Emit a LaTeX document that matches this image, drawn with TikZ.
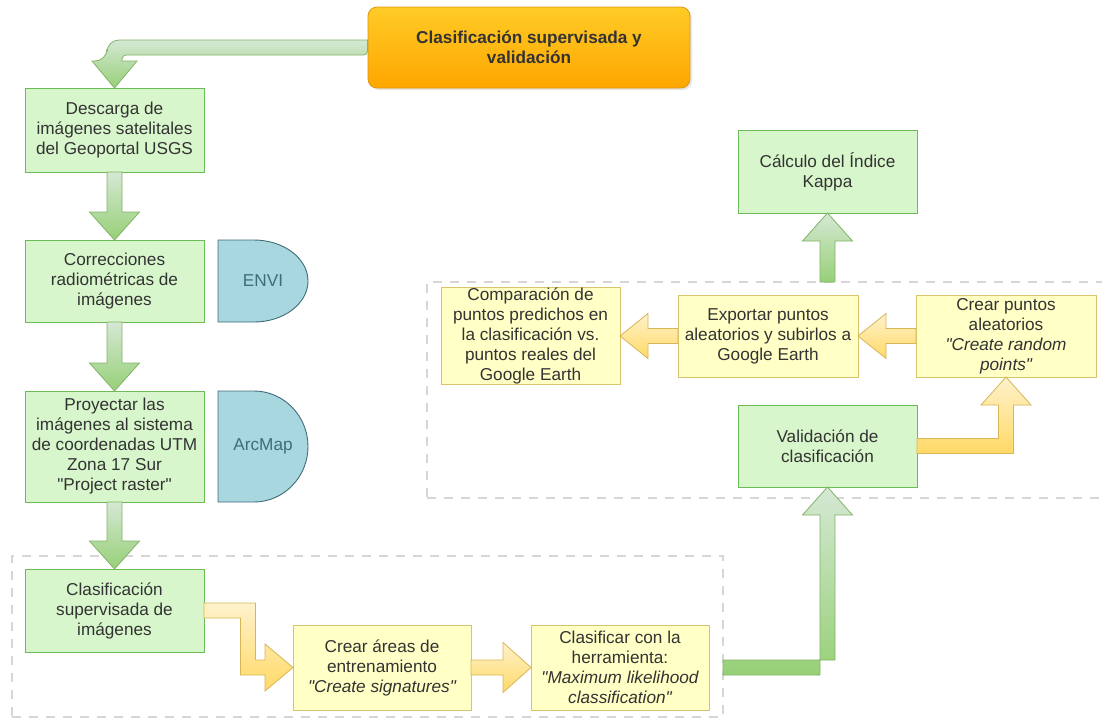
\documentclass[tikz,border=0pt]{standalone}
\usepackage{fontspec}
\setmainfont{Liberation Sans}[Ligatures=TeXOff]
\usetikzlibrary{positioning, calc, shadows, backgrounds}

\definecolor{verdefondo}{HTML}{D8F6CB}
\definecolor{verdeborde}{HTML}{6DBB58}
\definecolor{verdeclaro}{HTML}{D5E8D4}
\definecolor{verdeoscuro}{HTML}{97D077}
\definecolor{verdelinea}{HTML}{82B366}
\definecolor{amarillofondo}{HTML}{FFFFC6}
\definecolor{amarilloborde}{HTML}{D8C46C}
\definecolor{amarilloclaro}{HTML}{FFF2CC}
\definecolor{amarillooscuro}{HTML}{FFD966}
\definecolor{amarillolinea}{HTML}{D6B656}
\definecolor{naranjaarriba}{HTML}{FFCB26}
\definecolor{naranjaabajo}{HTML}{FFA600}
\definecolor{naranjaborde}{HTML}{DA9A12}
\definecolor{tealfondo}{HTML}{A8D7E0}
\definecolor{tealborde}{HTML}{3F6D78}
\definecolor{texto}{HTML}{333333}

% flechas gruesas: estilo, inicio, punta
\newcommand{\flechaabajo}[3]{\path[#1] ($(#2)+(-7.5,0)$) -- ($(#3)+(-7.5,-28)$) -- ++(-17.5,0) -- (#3) -- ++(25,-28) -- ++(-17.5,0) -- ($(#2)+(7.5,0)$) -- cycle;}
\newcommand{\flechaarriba}[3]{\path[#1] ($(#2)+(-7.5,0)$) -- ($(#3)+(-7.5,28)$) -- ++(-17.5,0) -- (#3) -- ++(25,28) -- ++(-17.5,0) -- ($(#2)+(7.5,0)$) -- cycle;}
\newcommand{\flechaizq}[3]{\path[#1] ($(#2)+(0,-7.5)$) -- ($(#3)+(28,-7.5)$) -- ++(0,-15) -- (#3) -- ++(28,22.5) -- ++(0,-15) -- ($(#2)+(0,7.5)$) -- cycle;}
\newcommand{\flechader}[3]{\path[#1] ($(#2)+(0,-7.5)$) -- ($(#3)+(-28,-7.5)$) -- ++(0,-17.5) -- (#3) -- ++(-28,25) -- ++(0,-17.5) -- ($(#2)+(0,7.5)$) -- cycle;}
% forma de programa (semicirculo a la derecha)
\newcommand{\formaprograma}[1]{\path[software] (#1.south west) -- (#1.north west) -- ($(#1.north west)!0.4!(#1.north east)$)
  .. controls ($(#1.north west)!0.73!(#1.north east)$) and ($(#1.east)!0.55!(#1.north east)$) .. (#1.east)
  .. controls ($(#1.east)!0.55!(#1.south east)$) and ($(#1.south west)!0.73!(#1.south east)$) .. ($(#1.south west)!0.4!(#1.south east)$) -- cycle;}

\begin{document}
\begin{tikzpicture}
[x=1pt, y=-1pt,
paso/.style    ={rectangle, draw=verdeborde, fill=verdefondo, line width=0.9pt, text=texto, align=center, minimum width=179pt, minimum height=83pt, inner sep=1pt, outer sep=0pt, font=\fontsize{17.2}{20}\selectfont},
tarea/.style   ={paso, draw=amarilloborde, fill=amarillofondo},
titulobox/.style={rectangle, rounded corners=9pt, draw=naranjaborde, top color=naranjaarriba, bottom color=naranjaabajo, line width=0.8pt, minimum width=322pt, minimum height=81pt, align=center, text=texto, font=\fontsize{17.2}{20}\selectfont\bfseries, drop shadow={opacity=0.2, shadow xshift=2pt, shadow yshift=-2pt}},
programa/.style={rectangle, minimum width=90pt, inner sep=0pt, outer sep=0pt, text=tealborde, font=\fontsize{17.2}{20}\selectfont},
software/.style={draw=tealborde, fill=tealfondo, line width=0.9pt},
region/.style  ={draw=black!16, line width=2.5pt, dash pattern=on 9pt off 8pt, inner sep=0pt, outer sep=0pt},
verde/.style   ={draw=verdelinea, top color=verdeclaro, bottom color=verdeoscuro, line width=0.8pt},
amarilla/.style={draw=amarillolinea, top color=amarilloclaro, bottom color=amarillooscuro, line width=0.8pt},
node distance = 68pt]

\useasboundingbox (0,0) rectangle (1102,721);

% zonas punteadas
\node[region, minimum width=711pt, minimum height=161pt] (zonaA) at (367.5,636.5) {};
\node[region, minimum width=690pt, minimum height=216pt] (zonaB) at (772,390) {};

\node[titulobox] (titulo) at (529,47.5) {Clasificación supervisada y\\validación};

\node[paso, minimum height=84pt] (descarga) at (114.5,130) {Descarga de\\imágenes satelitales\\del Geoportal USGS};
\node[paso, minimum height=82pt, below=of descarga] (correcciones) {Correcciones\\radiométricas de\\imágenes};
\node[programa, minimum height=82pt, right=14pt of correcciones] (envi) {ENVI};
\node[paso, minimum height=111pt, below=69pt of correcciones] (proyectar) {Proyectar las\\imágenes al sistema\\de coordenadas UTM\\Zona 17 Sur\\"Project raster"};
\node[programa, minimum height=111pt, right=14pt of proyectar] (arcmap) {ArcMap};
\node[paso, below=67pt of proyectar] (clasif) {Clasificación\\supervisada de\\imágenes};

\node[tarea, minimum width=178pt, minimum height=85pt] (areas) at (382,667.5) {Crear áreas de\\entrenamiento\\{\itshape "Create signatures"}};
\node[tarea, minimum width=178pt, minimum height=85pt, right=60pt of areas] (clasificar) {Clasificar con la\\herramienta:\\{\itshape "Maximum likelihood}\\{\itshape classification"}};

\node[paso, minimum height=82pt] (validacion) at (827.5,446) {Validación de\\clasificación};
\node[tarea, minimum width=180pt, minimum height=82pt] (crear) at (1006,336) {Crear puntos\\aleatorios\\{\itshape "Create random}\\{\itshape points"}};
\node[tarea, minimum width=180pt, minimum height=82pt, left=58pt of crear] (exportar) {Exportar puntos\\aleatorios y subirlos a\\Google Earth};
\node[tarea, minimum height=97pt, inner sep=0pt, left=58pt of exportar] (comparacion) {Comparación de\\puntos predichos en\\la clasificación vs.\\puntos reales del\\Google Earth};
\node[paso] (kappa) at (827.5,171.5) {Cálculo del Índice\\Kappa};

\begin{scope}[on background layer]
\formaprograma{envi}
\formaprograma{arcmap}
\end{scope}

\path[verde] ($(titulo.west)+(0,-7.5)$) [rounded corners=12pt] -| ($(descarga.north)+(-7.5,-27)$) [sharp corners] -- ++(-15,0) -- (descarga.north) -- ++(22.5,-27) -- ++(-15,0) [rounded corners=4pt] |- ($(titulo.west)+(0,7.5)$) [sharp corners] -- cycle;
\flechaabajo{verde}{descarga.south}{correcciones.north}
\flechaabajo{verde}{correcciones.south}{proyectar.north}
\flechaabajo{verde}{proyectar.south}{clasif.north}

\path[amarilla] ($(clasif.east)+(0,-7.5)$) -| ($(areas.west)+(-37.5,-7.5)$) -- ($(areas.west)+(-28,-7.5)$) -- ++(0,-16) -- (areas.west) -- ++(-28,23.5) -- ++(0,-16) -| ($(areas.west |- clasif.east)+(-52.5,7.5)$) -- ($(clasif.east)+(0,7.5)$) -- cycle;
\flechader{amarilla}{areas.east}{clasificar.west}

\path[verde] ($(clasificar.east -| zonaA.east)+(0,-7.5)$) -| ($(validacion.south)+(7.5,28)$) -- ++(17.5,0) -- (validacion.south) -- ++(-25,28) -- ++(17.5,0) |- ($(clasificar.east -| zonaA.east)+(0,7.5)$) -- cycle;

\path[amarilla] ($(validacion.east)+(0,-7.5)$) -| ($(crear.south)+(-7.5,28)$) -- ++(-17.5,0) -- (crear.south) -- ++(25,28) -- ++(-17.5,0) |- ($(validacion.east)+(0,7.5)$) -- cycle;
\flechaizq{amarilla}{crear.west}{exportar.east}
\flechaizq{amarilla}{exportar.west}{comparacion.east}

\flechaarriba{verde}{kappa.south |- zonaB.north}{kappa.south}
  \end{tikzpicture}
\end{document}
